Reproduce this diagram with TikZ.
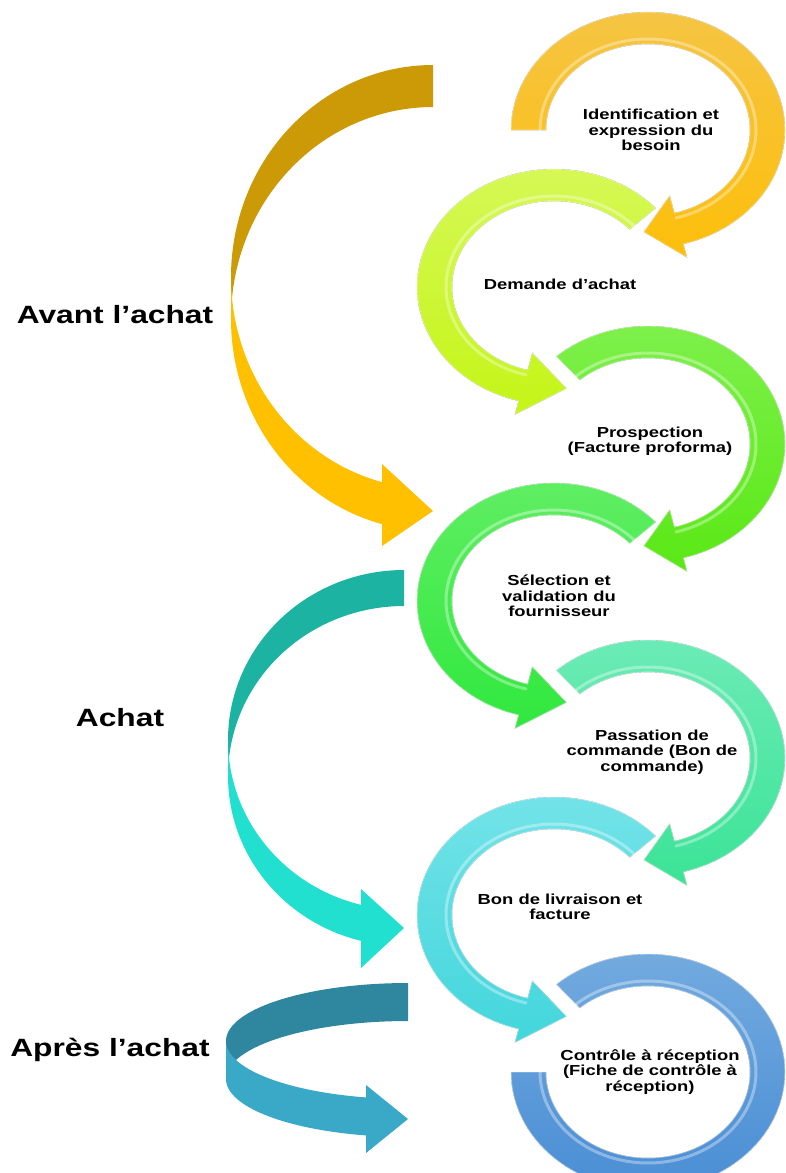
\documentclass[tikz,border=0pt]{standalone}
\usepackage{fontspec}
\newfontfamily\lbl{Liberation Sans}[FakeStretch=1.27]
\definecolor{ringA}{HTML}{FDBF0A}
\definecolor{ringAt}{HTML}{F5C443}
\definecolor{ringB}{HTML}{C4F517}
\definecolor{ringBt}{HTML}{D6F855}
\definecolor{ringC}{HTML}{5AE815}
\definecolor{ringCt}{HTML}{7DF04A}
\definecolor{ringD}{HTML}{30E83E}
\definecolor{ringDt}{HTML}{5FEE62}
\definecolor{ringE}{HTML}{3BE396}
\definecolor{ringEt}{HTML}{6BEBB6}
\definecolor{ringF}{HTML}{42D6DC}
\definecolor{ringFt}{HTML}{72E3E8}
\definecolor{ringG}{HTML}{4A8ED4}
\definecolor{ringGt}{HTML}{72AADF}
\definecolor{goldDark}{HTML}{CC9A06}
\definecolor{goldLight}{HTML}{FFC000}
\definecolor{tealDark}{HTML}{1DB3A3}
\definecolor{tealLight}{HTML}{22E0CF}
\definecolor{blueDark}{HTML}{2E879E}
\definecolor{blueLight}{HTML}{3AA8C7}
\tikzset{
  steptext/.style={align=center, inner sep=0pt, font=\lbl\bfseries\fontsize{14.5}{15.5}\selectfont},
  phase/.style={inner sep=0pt, font=\lbl\bfseries\fontsize{25}{28}\selectfont},
  gleam/.style={white, opacity=.35, line width=3pt, line cap=round},
  rim/.style={draw=white, draw opacity=.55, line width=.8pt},
}
% circular step arrow: centre x, centre y, start angle, end angle, tip angle, fill style
\newcommand\ringarrow[6]{%
  \fill[#6, rim] plot[domain=#3:#4, samples=80] ({#1+137*cos(\x)},{#2+118*sin(\x)})
    -- ({#1+151*cos(#4)},{#2+132*sin(#4)})
    -- ({#1+119.5*cos(#5)},{#2+102*sin(#5)})
    -- ({#1+84*cos(#4)},{#2+68*sin(#4)})
    -- plot[domain=#4:#3, samples=80] ({#1+102*cos(\x)},{#2+86*sin(\x)}) -- cycle;
  \draw[gleam] plot[domain=#3:#4, samples=80] ({#1+108*cos(\x)},{#2+91*sin(\x)});
}
% open ring without head
\newcommand\ringopen[5]{%
  \fill[#5, rim] plot[domain=#3:#4, samples=100] ({#1+137*cos(\x)},{#2+118*sin(\x)})
    -- plot[domain=#4:#3, samples=100] ({#1+102*cos(\x)},{#2+86*sin(\x)}) -- cycle;
  \draw[gleam] plot[domain=#3:#4, samples=100] ({#1+108*cos(\x)},{#2+91*sin(\x)});
}
\begin{document}
\begin{tikzpicture}[x=1pt, y=-1pt]
\clip (0,0) rectangle (785,1173);
\fill[white] (0,0) rectangle (785,1173);

% phase arrows on the left
\fill[goldDark] plot[domain=270:180, samples=60] ({433+202*cos(\x)},{277+212*sin(\x)})
  -- plot[domain=180:270, samples=60] ({433+202*cos(\x)},{319+212*sin(\x)}) -- cycle;
\fill[goldLight] plot[domain=180:104.6, samples=60] ({433+202*cos(\x)},{277+212*sin(\x)})
  -- (382,464) -- (433,511) -- (382,546)
  -- plot[domain=104.6:180, samples=60] ({433+202*cos(\x)},{319+212*sin(\x)}) -- cycle;

\fill[tealDark] plot[domain=270:180, samples=60] ({404+176*cos(\x)},{740+170*sin(\x)})
  -- plot[domain=180:270, samples=60] ({404+176*cos(\x)},{776+170*sin(\x)}) -- cycle;
\fill[tealLight] plot[domain=180:104.1, samples=60] ({404+176*cos(\x)},{740+170*sin(\x)})
  -- (361,889) -- (404,928) -- (361,968)
  -- plot[domain=104.1:180, samples=60] ({404+176*cos(\x)},{776+170*sin(\x)}) -- cycle;

\fill[blueDark] plot[domain=270:180, samples=60] ({408+182*cos(\x)},{1041+58*sin(\x)})
  -- plot[domain=180:270, samples=60] ({408+182*cos(\x)},{1079+58*sin(\x)}) -- cycle;
\fill[blueLight] plot[domain=180:103.3, samples=60] ({408+182*cos(\x)},{1041+58*sin(\x)})
  -- (366,1085) -- (408,1119) -- (366,1153)
  -- plot[domain=103.3:180, samples=60] ({408+182*cos(\x)},{1079+58*sin(\x)}) -- cycle;

% circular steps
\ringarrow{648}{130}{180}{435}{452}{top color=ringAt, bottom color=ringA}
\ringarrow{554}{287}{318}{105}{84}{top color=ringBt, bottom color=ringB}
\ringarrow{648}{444}{228}{435}{452}{top color=ringCt, bottom color=ringC}
\ringarrow{554}{601}{318}{105}{84}{top color=ringDt, bottom color=ringD}
\ringarrow{648}{758}{228}{435}{452}{top color=ringEt, bottom color=ringE}
\ringarrow{554}{915}{318}{105}{84}{top color=ringFt, bottom color=ringF}
\ringopen{648}{1072}{228}{540}{top color=ringGt, bottom color=ringG}

% step texts
\node[steptext] (s1) at (651,130) {Identification et\\expression du\\besoin};
\node[steptext] (s2) at (560,284) {Demande d’achat};
\node[steptext] (s3) at (650,441) {Prospection\\(Facture proforma)};
\node[steptext] (s4) at (559,596) {Sélection et\\validation du\\fournisseur};
\node[steptext] (s5) at (652,752) {Passation de\\commande (Bon de\\commande)};
\node[steptext] (s6) at (560,907) {Bon de livraison et\\facture};
\node[steptext] (s7) at (650,1072) {Contrôle à réception\\(Fiche de contrôle à\\réception)};

% phase labels
\node[phase] (p1) at (115,315) {Avant l’achat};
\node[phase] (p2) at (120,718) {Achat};
\node[phase] (p3) at (110,1050) {Après l’achat};
\end{tikzpicture}
\end{document}
